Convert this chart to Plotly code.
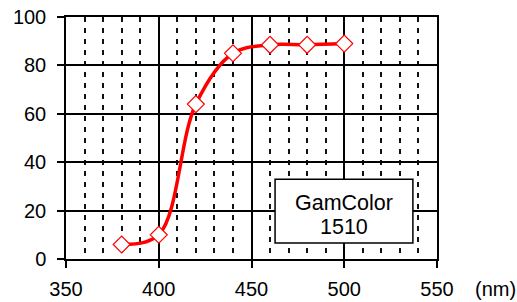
import plotly.graph_objects as go

wavelength = [380, 400, 420, 440, 460, 480, 500]
transmission = [6, 10, 64, 85, 88.5, 88.5, 89]
label_lines = ["GamColor", "1510"]
x_ticks = [350, 400, 450, 500, 550]
y_ticks = [0, 20, 40, 60, 80, 100]

FONT = "Liberation Sans, Arial, sans-serif"

fig = go.Figure()
fig.add_trace(go.Scatter(
    x=wavelength, y=transmission, mode="lines+markers",
    line=dict(color="#ff0000", width=3.5, shape="spline", smoothing=1.0),
    marker=dict(symbol="diamond", size=13, color="white",
                line=dict(color="#ff0000", width=1.2)),
    showlegend=False, hoverinfo="skip", cliponaxis=False,
))

fig.update_layout(
    width=517, height=302,
    margin=dict(l=66, r=80, t=17, b=43),
    paper_bgcolor="white", plot_bgcolor="white",
    font=dict(family=FONT, size=20, color="black"),
    xaxis=dict(range=[350, 550], tickvals=x_ticks, showgrid=True,
               gridcolor="black", gridwidth=1.5,
               minor=dict(dtick=10, showgrid=True, gridcolor="#111",
                          gridwidth=2, griddash="5px,6px"),
               ticks="outside", ticklen=7, tickcolor="black", tickwidth=1.5,
               showline=True, linecolor="black", linewidth=1.5, mirror=True,
               zeroline=False, ticklabelstandoff=4, automargin=False),
    yaxis=dict(range=[0, 100], tickvals=y_ticks, showgrid=True,
               gridcolor="black", gridwidth=1.5,
               ticks="outside", ticklen=7, tickcolor="black", tickwidth=1.5,
               showline=True, linecolor="black", linewidth=1.5, mirror=True,
               zeroline=False, ticklabelstandoff=7, automargin=False),
)

# label box
fig.add_shape(type="rect", xref="x", yref="y", x0=462.7, x1=537, y0=6.6, y1=33,
              line=dict(color="black", width=1.5), fillcolor="white", layer="above")
fig.add_annotation(x=499.9, y=23, xref="x", yref="y", text=label_lines[0],
                   showarrow=False, xanchor="center", yanchor="middle",
                   font=dict(size=21.5))
fig.add_annotation(x=499.9, y=13.4, xref="x", yref="y", text=label_lines[1],
                   showarrow=False, xanchor="center", yanchor="middle",
                   font=dict(size=21.5))
fig.add_annotation(x=1.098, y=-0.124, xref="paper", yref="paper", text="(nm)",
                   showarrow=False, xanchor="left", yanchor="middle", font=dict(size=20))

fig.write_html("out.html", config={"displayModeBar": False},
               post_script="document.body.style.margin='0';")
